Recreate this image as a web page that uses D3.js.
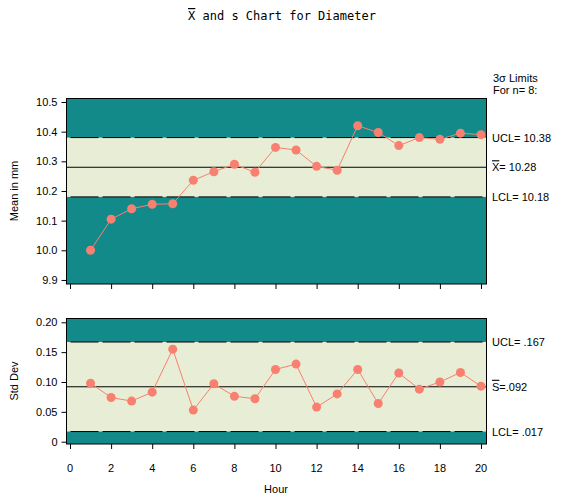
<!DOCTYPE html><html><head><script src="https://cdn.jsdelivr.net/npm/d3@7"></script>
<style>body{margin:0;background:#fff}text{font-family:"Liberation Sans",Arial,sans-serif;font-size:11px}</style></head><body>
<svg id="c" width="565" height="500"></svg>
<script>
const hours=d3.range(1,21);
const means=[10.00,10.105,10.14,10.155,10.157,10.236,10.265,10.29,10.263,10.347,10.338,10.283,10.27,10.42,10.397,10.353,10.38,10.374,10.395,10.39];
const sds=[0.098,0.074,0.068,0.083,0.155,0.053,0.097,0.076,0.072,0.121,0.13,0.058,0.08,0.121,0.064,0.115,0.088,0.100,0.116,0.093];
const meanLimits={lcl:10.18,center:10.28,ucl:10.38};
const sdLimits={lcl:0.017,center:0.092,ucl:0.167};
const meanTicks=[9.9,10.0,10.1,10.2,10.3,10.4,10.5];
const sdTicks=[0,0.05,0.10,0.15,0.20];
const xTicks=[0,2,4,6,8,10,12,14,16,18,20];
const svg=d3.select("#c");
const x=d3.scaleLinear().domain([0,20]).range([70,481]);
const L=66.5,R=486.5;
function panel(top,bot,y,ticks,fmt,vals,lim,labels){
  const g=svg.append("g");
  g.append("rect").attr("x",L).attr("y",top).attr("width",R-L).attr("height",bot-top).attr("fill","#138a8a");
  g.append("rect").attr("x",L).attr("y",y(lim.ucl)).attr("width",R-L).attr("height",y(lim.lcl)-y(lim.ucl)).attr("fill","#e8edd6");
  [lim.ucl,lim.lcl].forEach(v=>g.append("line").attr("x1",L).attr("x2",R).attr("y1",y(v)).attr("y2",y(v)).attr("stroke","#000").attr("stroke-dasharray","28,4").attr("stroke-dashoffset",-4));
  g.append("line").attr("x1",L).attr("x2",R).attr("y1",y(lim.center)).attr("y2",y(lim.center)).attr("stroke","#000");
  g.append("path").datum(vals).attr("fill","none").attr("stroke","#f88070").attr("d",d3.line().x((d,i)=>x(hours[i])).y(d=>y(d)));
  g.selectAll("circle").data(vals).join("circle").attr("cx",(d,i)=>x(hours[i])).attr("cy",d=>y(d)).attr("r",4.5).attr("fill","#f88070");
  g.append("rect").attr("x",L).attr("y",top).attr("width",R-L).attr("height",bot-top).attr("fill","none").attr("stroke","#000");
  const ya=g.append("g").attr("transform",`translate(${L},0)`).call(d3.axisLeft(y).tickValues(ticks).tickFormat(fmt).tickSize(5).tickPadding(4));
  ya.select(".domain").remove();
  const xa=g.append("g").attr("transform",`translate(0,${bot})`).call(d3.axisBottom(x).tickValues(xTicks).tickSize(5).tickFormat(""));
  xa.select(".domain").remove();
  labels.forEach(l=>{const t=g.append("text").attr("x",492).attr("y",y(l.v)+4);
    if(l.bar){t.append("tspan").attr("text-decoration","overline").text(l.bar);t.append("tspan").text(l.t);}else t.text(l.t);});
  return g;
}
const yM=d3.scaleLinear().domain([10.0,10.5]).range([250.3,102]);
const yS=d3.scaleLinear().domain([0,0.2]).range([441.7,322.3]);
panel(98.5,284,yM,meanTicks,d3.format(".1f"),means,meanLimits,[{v:10.38,t:"UCL= 10.38"},{v:10.28,bar:"X",t:"= 10.28"},{v:10.18,t:"LCL= 10.18"}]);
panel(318.5,444,yS,sdTicks,d=>d===0?"0":d3.format(".2f")(d),sds,sdLimits,[{v:0.167,t:"UCL= .167"},{v:0.092,bar:"S",t:"=.092"},{v:0.017,t:"LCL= .017"}]);
svg.append("g").selectAll("text").data(xTicks).join("text").attr("x",d=>x(d)).attr("y",472).attr("text-anchor","middle").text(d=>d);
svg.append("text").attr("x",276).attr("y",493).attr("text-anchor","middle").text("Hour");
svg.append("text").attr("transform","translate(18,191) rotate(-90)").attr("text-anchor","middle").text("Mean in mm");
svg.append("text").attr("transform","translate(18,381) rotate(-90)").attr("text-anchor","middle").text("Std Dev");
svg.append("text").attr("x",493).attr("y",82).text("3σ Limits");
svg.append("text").attr("x",493).attr("y",94).text("For n= 8:");
const tt=svg.append("text").attr("x",282).attr("y",20).attr("text-anchor","middle").style("font-family","DejaVu Sans Mono").style("font-size","12px");
tt.append("tspan").attr("text-decoration","overline").text("X");tt.append("tspan").text(" and s Chart for Diameter");
</script></body></html>
